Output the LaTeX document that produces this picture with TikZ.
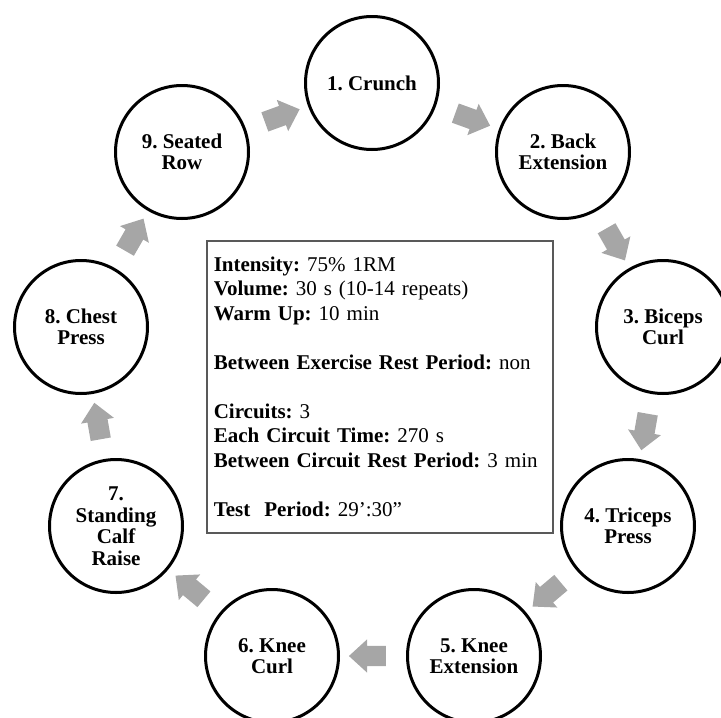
\documentclass[tikz,border=0pt]{standalone}
\usepackage{fontspec}
\setmainfont{Liberation Serif}
\usetikzlibrary{shapes.arrows}
\frenchspacing

\begin{document}
\begin{tikzpicture}[x=1pt,y=-1pt,
  station/.style={draw=black,line width=3pt,circle,minimum size=133pt,inner sep=0pt,
    align=center,font=\fontsize{21}{21.5}\selectfont\bfseries},
  flow/.style={single arrow,fill=black!35,draw=none,minimum height=37pt,
    single arrow head extend=6.5pt,single arrow tip angle=85,inner xsep=0pt,inner ysep=10pt,
    sloped,allow upside down},
  infobox/.style={draw=black!65,line width=1.5pt,anchor=north west,minimum height=292pt,
    text width=332pt,inner xsep=7pt,align=left,font=\fontsize{21}{24.5}\selectfont}]
\useasboundingbox (0,0) rectangle (721,718);
\clip (0,0) rectangle (721,718);
% exercises of the circuit
\node[station] (c1) at (372,83) {1. Crunch};
\node[station] (c2) at (563,152) {2. Back\\Extension};
\node[station] (c3) at (663,327) {3. Biceps\\Curl};
\node[station] (c4) at (628,526) {4. Triceps\\Press};
\node[station] (c5) at (474,656) {5. Knee\\Extension};
\node[station] (c6) at (272,656) {6. Knee\\Curl};
\node[station] (c7) at (116,526) {7.\\Standing\\Calf\\Raise};
\node[station] (c8) at (81,327) {8. Chest\\Press};
\node[station] (c9) at (182,152) {9. Seated\\Row};
% arrows between the exercises
\foreach \a/\b in {c1/c2,c2/c3,c3/c4,c4/c5,c5/c6,c6/c7,c7/c8,c8/c9,c9/c1}
  \path (\a) -- node[flow] {} (\b);
% protocol
\node[infobox] (info) at (206,240) {%
  \textbf{Intensity:} 75\% 1RM\\
  \textbf{Volume:} 30 s (10-14 repeats)\\
  \textbf{Warm Up:} 10 min\\[24.5pt]
  \textbf{Between Exercise Rest Period:} non\\[24.5pt]
  \textbf{Circuits:} 3\\
  \textbf{Each Circuit Time:} 270 s\\
  \textbf{Between Circuit Rest Period:} 3 min\\[24.5pt]
  \textbf{Test\ \ Period:} 29’:30”};
\end{tikzpicture}
\end{document}
